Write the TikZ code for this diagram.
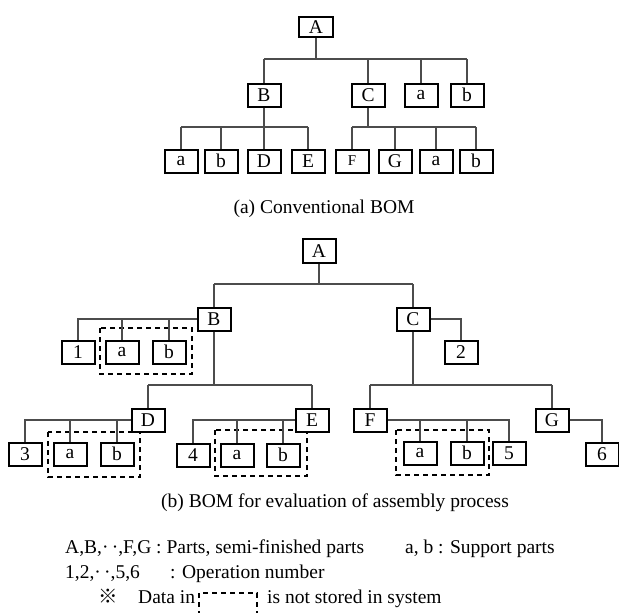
\documentclass[tikz,border=0pt]{standalone}
\usepackage{fontspec}
\setmainfont{Liberation Serif}
\newfontfamily\cjkfont{Noto Sans CJK JP}
\begin{document}
\begin{tikzpicture}[x=1pt,y=-1pt,
  every node/.style={font=\fontsize{19.5}{23}\selectfont},
  bx/.style={draw=black, line width=2pt, minimum width=33pt, minimum height=23pt, inner sep=0pt, fill=white},
  ln/.style={draw=black!70, line width=1.1pt},
  grp/.style={draw=black, line width=1.4pt, dash pattern=on 5pt off 4pt},
  txt/.style={anchor=base west, inner sep=0pt}]
\useasboundingbox (0,0) rectangle (619,613);

% ---------- (a) conventional BOM ----------
\node[bx, minimum width=34pt, minimum height=20pt] (aA) at (316,27) {A};
\node[bx] (aB) at (264,95) {B};
\node[bx] (aC) at (368,95) {C};
\node[bx] (aa) at (421,95) {a};
\node[bx] (ab) at (467,95) {b};
\node[bx] (aBa) at (181,161) {a};
\node[bx] (aBb) at (221,161) {b};
\node[bx] (aD) at (264,161) {D};
\node[bx] (aE) at (308,161) {E};
\node[bx, font=\fontsize{15}{18}\selectfont] (aF) at (352,161) {F};
\node[bx] (aG) at (395,161) {G};
\node[bx] (aCa) at (436,161) {a};
\node[bx] (aCb) at (476,161) {b};

\coordinate (aBus) at (0,59);
\coordinate (aBusB) at (0,127);
\draw[ln] (aA.south) -- (aA.south |- aBus);
\draw[ln] (aB.north |- aBus) -- (ab.north |- aBus);
\foreach \n in {aB,aC,aa,ab} \draw[ln] (\n.north) -- (\n.north |- aBus);
\draw[ln] (aB.south) -- (aB.south |- aBusB);
\draw[ln] (aBa.north |- aBusB) -- (aE.north |- aBusB);
\foreach \n in {aBa,aBb,aD,aE} \draw[ln] (\n.north) -- (\n.north |- aBusB);
\draw[ln] (aC.south) -- (aC.south |- aBusB);
\draw[ln] (aF.north |- aBusB) -- (aCb.north |- aBusB);
\foreach \n in {aF,aG,aCa,aCb} \draw[ln] (\n.north) -- (\n.north |- aBusB);

\node[anchor=base] (capa) at (324,213) {(a) Conventional BOM};

% ---------- (b) BOM for evaluation ----------
\draw[grp] (100,328) rectangle (192,374);
\draw[grp] (48,432) rectangle (140,477);
\draw[grp] (215,430) rectangle (307,476);
\draw[grp] (396,430) rectangle (489,475);

\node[bx, minimum height=24pt] (bA) at (319,251) {A};
\node[bx] (bB) at (214,319) {B};
\node[bx] (bC) at (413,319) {C};
\node[bx] (o1) at (78,352) {1};
\node[bx] (Ba) at (122,352) {a};
\node[bx] (Bb) at (169,352) {b};
\node[bx] (o2) at (461,352) {2};
\node[bx] (bD) at (148,420) {D};
\node[bx] (bE) at (312,420) {E};
\node[bx] (bF) at (370,420) {F};
\node[bx] (bG) at (552,420) {G};
\node[bx] (o3) at (25,454) {3};
\node[bx] (Da) at (70,454) {a};
\node[bx] (Db) at (117,454) {b};
\node[bx] (o4) at (193,455) {4};
\node[bx] (Ea) at (237,455) {a};
\node[bx] (Eb) at (283,455) {b};
\node[bx] (Fa) at (420,453) {a};
\node[bx] (Fb) at (467,453) {b};
\node[bx] (o5) at (509,453) {5};
\node[bx] (o6) at (602,454) {6};

\coordinate (bBus) at (0,284);
\coordinate (bBus2) at (0,385);
\draw[ln] (bA.south) -- (bA.south |- bBus);
\draw[ln] (bB.north |- bBus) -- (bC.north |- bBus);
\foreach \n in {bB,bC} \draw[ln] (\n.north) -- (\n.north |- bBus);

% B
\draw[ln] (bB.west) -| (o1.north);
\foreach \n in {Ba,Bb} \draw[ln] (\n.north) -- (\n.north |- bB.west);
\draw[ln] (bB.south) -- (bB.south |- bBus2);
\draw[ln] (bD.north |- bBus2) -- (bE.north |- bBus2);
\foreach \n in {bD,bE} \draw[ln] (\n.north) -- (\n.north |- bBus2);
% D
\draw[ln] (bD.west) -| (o3.north);
\foreach \n in {Da,Db} \draw[ln] (\n.north) -- (\n.north |- bD.west);
% E
\draw[ln] (bE.west) -| (o4.north);
\foreach \n in {Ea,Eb} \draw[ln] (\n.north) -- (\n.north |- bE.west);
% C
\draw[ln] (bC.east) -| (o2.north);
\draw[ln] (bC.south) -- (bC.south |- bBus2);
\draw[ln] (bF.north |- bBus2) -- (bG.north |- bBus2);
\foreach \n in {bF,bG} \draw[ln] (\n.north) -- (\n.north |- bBus2);
% F
\draw[ln] (bF.east) -| (o5.north);
\foreach \n in {Fa,Fb} \draw[ln] (\n.north) -- (\n.north |- bF.east);
% G
\draw[ln] (bG.east) -| (o6.north);

\node[anchor=base] (capb) at (335,507) {(b) BOM for evaluation of assembly process};

% ---------- legend ----------
\node[txt] (l1) at (65,553) {A,B,·\,·,F,G : Parts, semi-finished parts};
\node[txt] (l1b) at (405,553) {a, b : Support parts};
\node[txt] (l2) at (65,578) {1,2,·\,·,5,6};
\node[txt] (l2b) at (170,578) {: Operation number};
\node[txt] (l3m) at (98,603) {\cjkfont ※};
\node[txt] (l3) at (138,603) {Data in};
\draw[grp] (199,616) -- (199,593) -- (257,593) -- (257,616);
\node[txt] (l3b) at (267,603) {is not stored in system};
\end{tikzpicture}
\end{document}
